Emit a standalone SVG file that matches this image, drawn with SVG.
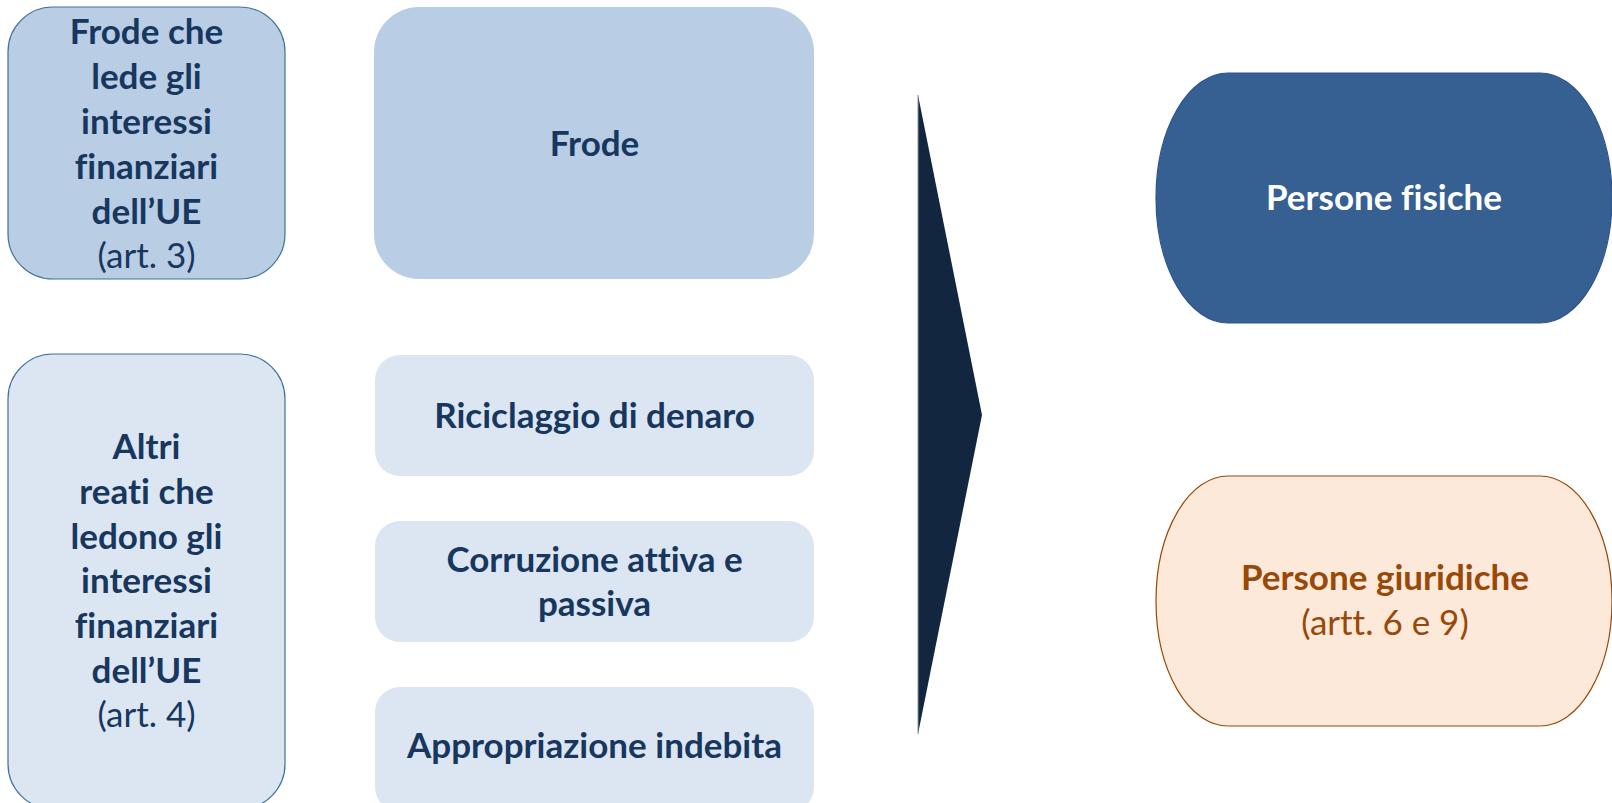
<svg xmlns="http://www.w3.org/2000/svg" width="1612" height="803" viewBox="0 0 1612 803">
<style>
  text { font-family: Lato, "Liberation Sans", sans-serif; font-size: 35px; text-anchor: middle; font-variant-ligatures: none; }
  .b { font-weight: bold; }
  .n { font-weight: normal; }
  .navy { fill: #17375E; }
  .dark { fill: #B9CDE5; }
  .light { fill: #DCE6F2; }
  .edge { stroke: #41719C; stroke-width: 1.2; }
</style>
<rect width="1612" height="803" fill="#FFFFFF"/>

<g id="node-frode-art3">
  <rect class="dark edge" x="8" y="7" width="277" height="272" rx="45" ry="45"/>
  <text class="b navy" x="146.5" y="44">Frode che</text>
  <text class="b navy" x="146.5" y="89">lede gli</text>
  <text class="b navy" x="146.5" y="134">interessi</text>
  <text class="b navy" x="146.5" y="179">finanziari</text>
  <text class="b navy" x="146.5" y="224">dell’UE</text>
  <text class="n navy" x="146.5" y="268">(art. 3)</text>
</g>

<g id="node-frode">
  <rect class="dark" x="374" y="7" width="440" height="272" rx="45" ry="45"/>
  <text class="b navy" x="594.5" y="156">Frode</text>
</g>

<g id="node-altri-art4">
  <rect class="light edge" x="8" y="354" width="277" height="455" rx="45" ry="45"/>
  <text class="b navy" x="146.5" y="459">Altri</text>
  <text class="b navy" x="146.5" y="504">reati che</text>
  <text class="b navy" x="146.5" y="549">ledono gli</text>
  <text class="b navy" x="146.5" y="593">interessi</text>
  <text class="b navy" x="146.5" y="638">finanziari</text>
  <text class="b navy" x="146.5" y="683">dell’UE</text>
  <text class="n navy" x="146.5" y="727">(art. 4)</text>
</g>

<g id="node-riciclaggio">
  <rect class="light" x="375" y="355" width="439" height="121" rx="25" ry="25"/>
  <text class="b navy" x="594.5" y="428">Riciclaggio di denaro</text>
</g>

<g id="node-corruzione">
  <rect class="light" x="375" y="521" width="439" height="121" rx="25" ry="25"/>
  <text class="b navy" x="594.5" y="572">Corruzione attiva e</text>
  <text class="b navy" x="594.5" y="616">passiva</text>
</g>

<g id="node-appropriazione">
  <rect class="light" x="375" y="687" width="439" height="125" rx="25" ry="25"/>
  <text class="b navy" x="594.5" y="758">Appropriazione indebita</text>
</g>

<g id="connectors">
  <polygon points="918,95 982,415 918,734" fill="#12263F"/>
  <line x1="918" y1="95" x2="918" y2="734" stroke="#8A94A3" stroke-width="1"/>
</g>

<g id="node-persone-fisiche">
  <rect x="1156" y="73" width="456" height="250" rx="72" ry="125" fill="#366092" stroke="#2F528F" stroke-width="1.2"/>
  <text class="b" x="1384" y="210" fill="#FFFFFF">Persone fisiche</text>
</g>

<g id="node-persone-giuridiche">
  <rect x="1156" y="476" width="456" height="250" rx="72" ry="125" fill="#FDE9D9" stroke="#984807" stroke-width="1.2"/>
  <text class="b" x="1385" y="590" fill="#984807">Persone giuridiche</text>
  <text class="n" x="1385" y="635" fill="#984807">(artt. 6 e 9)</text>
</g>
</svg>
